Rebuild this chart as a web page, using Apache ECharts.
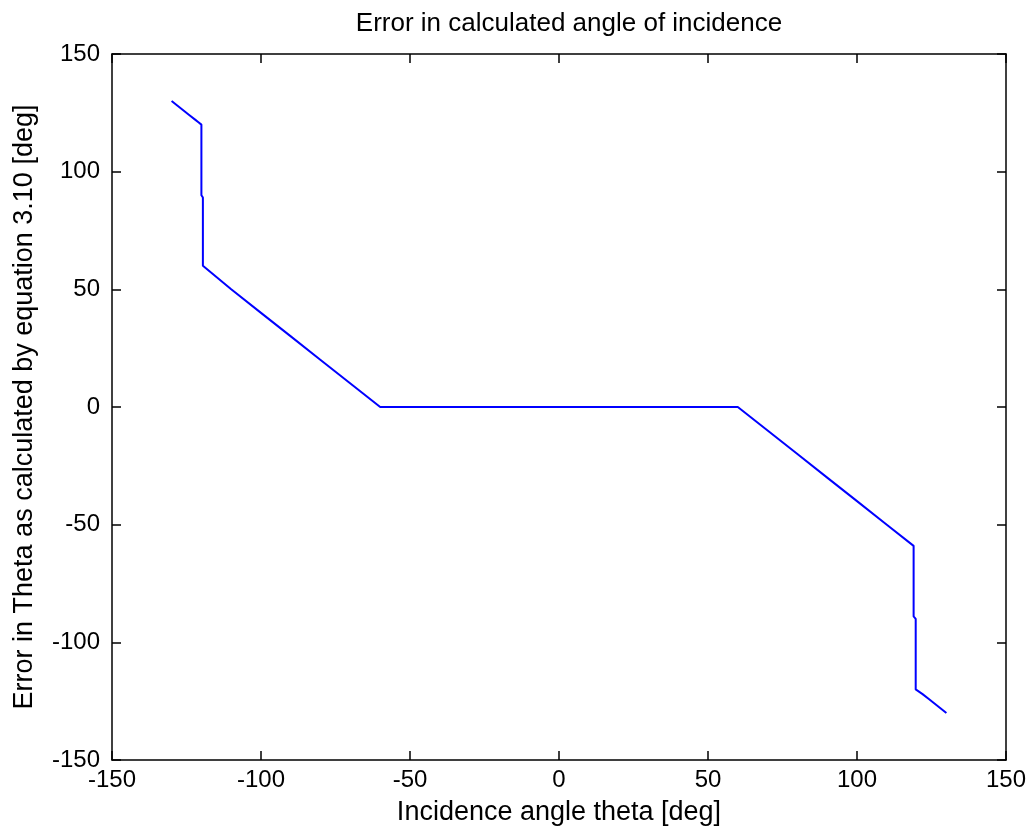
<!DOCTYPE html>
<html><head><meta charset="utf-8">
<script src="https://cdn.jsdelivr.net/npm/echarts@6/dist/echarts.min.js"></script>
<style>html,body{margin:0;padding:0;background:#fff}#c{width:1030px;height:836px}</style>
</head><body><div id="c"></div>
<script>
const xValues = [-130, -128, -126, -124, -122, -121, -120, -120, -119.5, -119.5, -110, -100, -90, -80, -70, -60, 60, 70, 80, 90, 100, 110, 119, 119, 119.7, 119.7, 122, 124, 126, 128, 130];
const yValues = [130, 128, 126, 124, 122, 121, 120, 90, 89, 60, 50, 40, 30, 20, 10, 0, 0, -10, -20, -30, -40, -50, -59, -89, -90, -120, -122, -124, -126, -128, -130];
const xTicks = [-150, -100, -50, 0, 50, 100, 150];
const yTicks = [-150, -100, -50, 0, 50, 100, 150];

const font = 'Liberation Sans, Arial, sans-serif';
const data = xValues.map((x, i) => [x, yValues[i]]);
const chart = echarts.init(document.getElementById('c'));
const lineStyle = {color: '#000', width: 1.5};
const baseAxis = (extra) => Object.assign({
  type: 'value', min: xTicks[0], max: xTicks[xTicks.length - 1], interval: 50,
  axisLine: {show: true, onZero: false, lineStyle},
  axisTick: {show: true, inside: true, length: 9, lineStyle},
  splitLine: {show: false},
  axisLabel: {color: '#000', fontFamily: font, fontSize: 24}
}, extra);
chart.setOption({
  animation: false,
  title: {text: 'Error in calculated angle of incidence', left: 564, textAlign: 'center', top: 6,
    textStyle: {fontFamily: font, fontSize: 26, fontWeight: 'normal', color: '#000'}},
  grid: {left: 112, right: 24, top: 54, bottom: 76, containLabel: false},
  xAxis: [
    baseAxis({position: 'bottom', name: 'Incidence angle theta [deg]', nameLocation: 'middle', nameGap: 39,
      nameTextStyle: {fontFamily: font, fontSize: 27, color: '#000'},
      axisLabel: {color: '#000', fontFamily: font, fontSize: 24, margin: 8}}),
    baseAxis({position: 'top', axisLabel: {show: false}})
  ],
  yAxis: [
    baseAxis({position: 'left', min: yTicks[0], max: yTicks[yTicks.length - 1], name: 'Error in Theta as calculated by equation 3.10 [deg]', nameLocation: 'middle', nameGap: 74,
      nameTextStyle: {fontFamily: font, fontSize: 27, color: '#000'},
      axisLabel: {color: '#000', fontFamily: font, fontSize: 24, margin: 12}}),
    baseAxis({position: 'right', min: yTicks[0], max: yTicks[yTicks.length - 1], axisLabel: {show: false}})
  ],
  series: [{type: 'line', data, xAxisIndex: 0, yAxisIndex: 0, showSymbol: false, symbol: 'none',
    lineStyle: {color: '#0000ff', width: 2}}]
});
</script></body></html>
